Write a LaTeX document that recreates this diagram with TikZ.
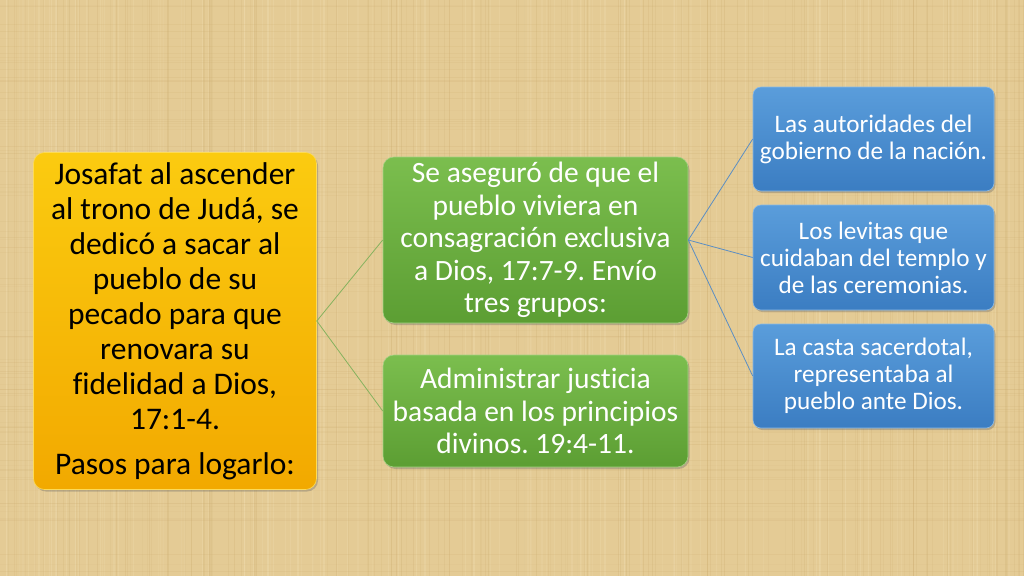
\documentclass[tikz,border=0pt]{standalone}
\usepackage{fontspec}
\setmainfont{Carlito}[Ligatures={NoCommon}]
\usetikzlibrary{shadows}
\frenchspacing
\definecolor{bgtan}{HTML}{E4CB95}
\definecolor{bgdark}{HTML}{C9A86A}
\definecolor{bglight}{HTML}{F0DDB0}
\definecolor{ytop}{HTML}{FBCB10}
\definecolor{ybot}{HTML}{F2A900}
\definecolor{gtop}{HTML}{7BBE4E}
\definecolor{gbot}{HTML}{5C9E33}
\definecolor{btop}{HTML}{5A9DDB}
\definecolor{bbot}{HTML}{3B7DC2}
\definecolor{glink}{HTML}{86B25E}
\definecolor{blink}{HTML}{5B8EC4}
\tikzset{
  card/.style={rounded corners=11pt, align=center, inner sep=2pt,
    drop shadow={shadow xshift=1.5pt, shadow yshift=-2pt, opacity=0.35, fill=black!60}},
  ybox/.style={card, top color=ytop, bottom color=ybot, draw=ytop!70!white, line width=0.6pt,
    text=black, minimum width=283pt, minimum height=337pt,
    font=\fontsize{31.5}{35}\selectfont},
  gbox/.style={card, top color=gtop, bottom color=gbot, draw=gtop!70!white, line width=0.6pt,
    text=white, minimum width=305pt,
    font=\fontsize{29.5}{32.5}\selectfont},
  bbox/.style={card, rounded corners=8pt, top color=btop, bottom color=bbot, draw=btop!70!white, line width=0.6pt,
    text=white, minimum width=241pt, minimum height=104pt,
    font=\fontsize{25.2}{27}\selectfont},
  glinkst/.style={draw=glink, line width=0.8pt},
  blinkst/.style={draw=blink, line width=0.8pt}
}
\begin{document}
\begin{tikzpicture}[x=1pt,y=-1pt]
\useasboundingbox (0,0) rectangle (1024,576);
\fill[bgtan] (0,0) rectangle (1024,576);
% papyrus texture
\pgfmathsetseed{42}
\foreach \i in {1,...,160}{
  \pgfmathsetmacro{\xx}{rnd*1024}
  \pgfmathsetmacro{\op}{0.08+rnd*0.15}
  \draw[bgdark, opacity=\op, line width=0.8pt] (\xx,0) -- (\xx,576);
}
\foreach \i in {1,...,120}{
  \pgfmathsetmacro{\xx}{rnd*1024}
  \pgfmathsetmacro{\op}{0.15+rnd*0.2}
  \draw[bglight, opacity=\op, line width=1.2pt] (\xx,0) -- (\xx,576);
}
\foreach \i in {1,...,90}{
  \pgfmathsetmacro{\yy}{rnd*576}
  \pgfmathsetmacro{\op}{0.06+rnd*0.12}
  \draw[bgdark, opacity=\op, line width=0.8pt] (0,\yy) -- (1024,\yy);
}
\node[ybox] (y) at (175,321) {Josafat al ascender\\ al trono de Judá, se\\ dedicó a sacar al\\ pueblo de su\\ pecado para que\\ renovara su\\ fidelidad a Dios,\\ 17:1-4.\\[10pt] Pasos para logarlo:};
\node[gbox, minimum height=166pt] (g1) at (535.5,240) {Se aseguró de que el\\ pueblo viviera en\\ consagración exclusiva\\ a Dios, 17:7-9. Envío\\ tres grupos:};
\node[gbox, minimum height=112pt] (g2) at (535.5,411) {Administrar justicia\\ basada en los principios\\ divinos. 19:4-11.};
\node[bbox] (b1) at (873.5,139) {Las autoridades del\\ gobierno de la nación.};
\node[bbox, minimum height=105pt] (b2) at (873.5,257.5) {Los levitas que\\ cuidaban del templo y\\ de las ceremonias.};
\node[bbox] (b3) at (873.5,376) {La casta sacerdotal,\\ representaba al\\ pueblo ante Dios.};
% connectors
\draw[glinkst] (y.east) -- (g1.west);
\draw[glinkst] (y.east) -- (g2.west);
\draw[blinkst] (g1.east) -- (b1.west);
\draw[blinkst] (g1.east) -- (b2.west);
\draw[blinkst] (g1.east) -- (b3.west);
\end{tikzpicture}
\end{document}
